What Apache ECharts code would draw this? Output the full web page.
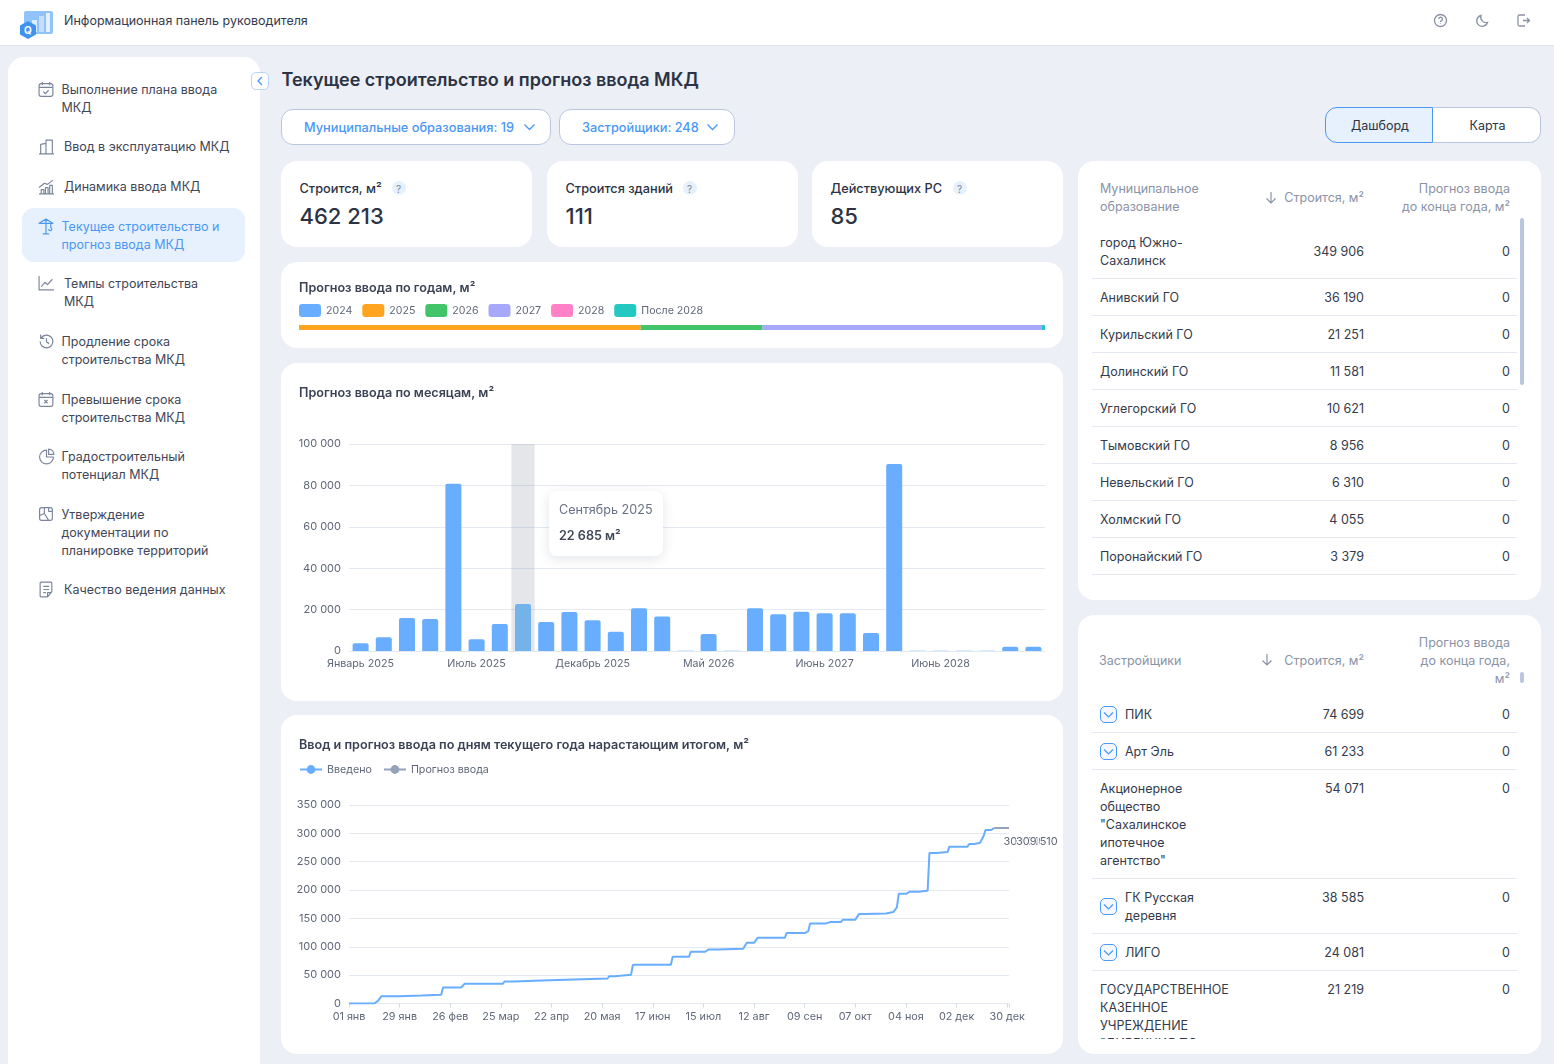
<!DOCTYPE html>
<html lang="ru"><head><meta charset="utf-8">
<script src="https://cdn.jsdelivr.net/npm/echarts@6/dist/echarts.min.js"></script>
<style>
html,body{margin:0;padding:0;width:1554px;height:1064px;overflow:hidden;background:#ECEFF5;font-family:Inter,"Noto Sans",sans-serif;color:#333B4C}
.b{position:absolute;box-sizing:border-box}
.b svg{display:block}
.t{position:absolute;white-space:nowrap;transform:translateY(-50%);font-size:12.5px;line-height:18px;margin-top:.5px}
.chart{position:absolute}
</style></head><body>
<div id="root"></div>
<script>
// ---- chart data ----
const monthNames = ['Январь 2025','Февраль 2025','Март 2025','Апрель 2025','Май 2025','Июль 2025','Август 2025','Сентябрь 2025','Октябрь 2025','Ноябрь 2025','Декабрь 2025','Январь 2026','Февраль 2026','Март 2026','Апрель 2026','Май 2026','Июнь 2026','Сентябрь 2026','Декабрь 2026','Март 2027','Июнь 2027','Июль 2027','Сентябрь 2027','Декабрь 2027','Март 2028','Июнь 2028','Сентябрь 2028','Декабрь 2028','Март 2029','Июнь 2029'];
const monthValues = [3700,6700,16000,15400,80800,5700,13000,22685,14000,18800,14800,9300,20700,16700,150,8200,150,20700,17800,19000,18200,18200,8700,90300,150,150,150,150,2100,2000];
const hoverIndex = 7;
const yearNames = ['2024','2025','2026','2027','2028','После 2028'];
const yearValues = [0,211700,75500,173100,0,1913];
const yearColors = ['#69ADFF','#FFA41F','#41C46A','#A5A8FB','#FF80C5','#23C8C0'];
const dayTickLabels = ['01 янв','29 янв','26 фев','25 мар','22 апр','20 мая','17 июн','15 июл','12 авг','09 сен','07 окт','04 ноя','02 дек','30 дек'];
const donePoints = [[0,0],[14,0],[16,4700],[18,13000],[28,13000],[29,14000],[40,14000],[41,15300],[51,15300],[52,28200],[62,28200],[64,34700],[85,34700],[86,38800],[91,38800],[92,41200],[111,41200],[112,44100],[143,44100],[144,48200],[147,48200],[148,50600],[156,50600],[157,68200],[178,68200],[179,82300],[188,82300],[189,91200],[197,91200],[199,95300],[204,95300],[205,96500],[218,96500],[220,107000],[224,107000],[226,115900],[241,115900],[242,124100],[252,124100],[254,127600],[255,141200],[264,141200],[265,142400],[266,143500],[272,143500],[273,147600],[280,147600],[282,157600],[285,157600],[286,158800],[297,158800],[298,161200],[301,161200],[303,169400],[304,193500],[308,193500],[309,195000],[310,197000],[315,197000],[316,198800],[320,198800],[321,265300],[325,265300],[326,267000],[331,267000],[332,276500],[342,276500],[343,281200],[346,281200],[347,283500],[349,283500],[351,295900],[352,305900],[355,305900],[357,309510]];
const planPoints = [[357,309510],[365,309510]];
const endLabelText = '309 510';

// ---- page texts ----
const navItems = [
 ['Выполнение плана ввода<br>МКД',61.5,98,'cal'],['Ввод в эксплуатацию МКД',64,146,'bld'],['Динамика ввода МКД',64,186,'dyn'],
 ['Текущее строительство и<br>прогноз ввода МКД',61.5,235,'crn'],['Темпы строительства<br>МКД',64,292,'grw'],
 ['Продление срока<br>строительства МКД',61.5,350,'clk'],['Превышение срока<br>строительства МКД',61.5,408,'cax'],
 ['Градостроительный<br>потенциал МКД',61.5,465,'pie'],['Утверждение<br>документации по<br>планировке территорий',61.5,532,'map'],['Качество ведения данных',64,589,'doc']];
const kpis = [['Строится, м²','462 213',281,399],['Строится зданий','111',547,690],['Действующих РС','85',812,960]];
const muni = [['город Южно-<br>Сахалинск','349 906','0',251],['Анивский ГО','36 190','0',297],['Курильский ГО','21 251','0',334],['Долинский ГО','11 581','0',371],['Углегорский ГО','10 621','0',408],['Тымовский ГО','8 956','0',445],['Невельский ГО','6 310','0',482],['Холмский ГО','4 055','0',519],['Поронайский ГО','3 379','0',556]];
const muniLines = [278,315,352,389,426,463,500,537,574];
const devs = [['ПИК','74 699','0',714,1],['Арт Эль','61 233','0',751,1],['Акционерное<br>общество<br>"Сахалинское<br>ипотечное<br>агентство"','54 071','0',824,0],['ГК Русская<br>деревня','38 585','0',906,1],['ЛИГО','24 081','0',952,1],['ГОСУДАРСТВЕННОЕ<br>КАЗЕННОЕ<br>УЧРЕЖДЕНИЕ<br>"ДИРЕКЦИЯ ПО','21 219','0',1016,0]];
const devLines = [732,769,878,933,970];

const root = document.getElementById('root');
function box(x,y,w,h,css,parent){const d=document.createElement('div');d.className='b';d.style.cssText+=`left:${x}px;top:${y}px;width:${w}px;height:${h}px;${css||''}`;(parent||root).appendChild(d);return d;}
function txt(x,y,s,css,right,parent){const d=document.createElement('div');d.className='t';d.innerHTML=s;d.style.cssText+=`top:${y}px;${right?`right:${1554-x}px;text-align:right;`:`left:${x}px;`}${css||''}`;(parent||root).appendChild(d);return d;}
function svg(x,y,w,h,inner,parent,vb){const d=document.createElement('div');d.className='b';d.style.cssText=`left:${x}px;top:${y}px;width:${w}px;height:${h}px;`;d.innerHTML=`<svg width="${w}" height="${h}" viewBox="${vb||`0 0 ${w} ${h}`}" fill="none">${inner}</svg>`;(parent||root).appendChild(d);}

// top bar
box(0,0,1554,46,'background:#fff;border-bottom:1px solid #DDE2EC');
svg(18,9,36,30,'<rect x="6" y="2" width="29" height="23" rx="2" fill="#8FC3FA"/><rect x="14" y="11" width="5" height="12" fill="#DCEBFD"/><rect x="21" y="7" width="5" height="16" fill="#C4DEFC"/><rect x="28" y="4" width="4" height="19" fill="#E4F0FE"/><path d="M10 12l8 4.500v9L10 30l-8-4.500v-9z" fill="#3E93F2"/><text x="10" y="24.500" text-anchor="middle" font-family="Inter" font-size="10" font-weight="700" fill="#fff">Q</text>');
txt(64,20,'Информационная панель руководителя','color:#333B4C');
const ic='stroke="#8A93A6" stroke-width="1.3"';
svg(1433,13,15,15,`<circle cx="7.5" cy="7.5" r="6" ${ic}/><path d="M5.8 6a1.8 1.8 0 113 1.4c-.8.5-1.3.8-1.3 1.6M7.5 10.6v.4" ${ic}/>`);
svg(1475,13,15,15,`<path d="M12.5 9.5A5.5 5.5 0 016 2.500a5.500 5.500 0 106.500 7z" ${ic}/>`);
svg(1516,13,15,15,`<path d="M9 2H3.500A1.500 1.500 0 002 3.500v8A1.500 1.500 0 003.500 13H9M7 7.500h6.500M11 5l2.500 2.500L11 10" ${ic}/>`);

// sidebar
box(8,57,252,1020,'background:#fff;border-radius:16px');
box(22,208,223,54,'background:#E7F0FD;border-radius:12px');
const gly={cal:'<rect x="1" y="2.500" width="13" height="12" rx="2"/><path d="M4 1v3M11 1v3M1 6h13M5 10l2 2 3-3.500"/>',bld:'<path d="M1 15h14M2.500 15V6l5-1v10M7.500 15V2h6v13"/>',dyn:'<path d="M1 15h14M3 15v-4h2.500v4M7 15v-6h2.500v6M11 15V7h2.500v8M1 9l5-4 3 1 5-4"/>',crn:'<path d="M7.500 1v14M4.500 15h6M1 5h13l-6.500-4zM12 5v4a1.500 1.500 0 11-2 1.400"/>',grw:'<path d="M1 1v13h14M3 11l3.500-4 2.500 2 4.500-5"/>',clk:'<path d="M2 8a6 6 0 106-6 6 6 0 00-5 2.700M2.500 1.500v3.500H6M8 5v3.500l2.500 1.500"/>',cax:'<rect x="1" y="2.500" width="13" height="12" rx="2"/><path d="M4 1v3M11 1v3M1 6h13M6 8.500l3 3M9 8.500l-3 3"/>',pie:'<path d="M8 2a6.500 6.500 0 106.500 6.500H8z"/><path d="M10 1a5 5 0 015 5h-5z"/>',map:'<rect x="1.500" y="1.500" width="12" height="12" rx="2"/><path d="M6 1.500V7l-4.500 2M6 7l4 6.500M10 1.500V5h3.500"/>',doc:'<path d="M3 1h9a1 1 0 011 1v8l-4 5H3a1 1 0 01-1-1V2a1 1 0 011-1zM5 5h5.500M5 8h5.500M5 11h2.500M9 15v-4h4"/>'};
navItems.forEach(([s,x,y,g])=>{const on=g==='crn';const col=on?'#4A98F5':'#7C869B';
 const lines=s.split('<br>').length;const first=y-(lines-1)*9;
 svg(38,first-8.5,17,17,`<g stroke="${col}" stroke-width="1.1" stroke-linejoin="round">${gly[g]}</g>`,null,'0 0 16 16');
 txt(x,y,s,`color:${on?'#4A98F5':'#3F4759'}`);});
box(251,72,18,18,'background:#fff;border:1px solid #B9D4F7;border-radius:5px');
svg(255,76,10,10,'<path d="M7 1L3 5l4 4" stroke="#4A98F5" stroke-width="1.3"/>');

// heading and filters
txt(281.5,79.5,'Текущее строительство и прогноз ввода МКД','font-size:18px;font-weight:600;color:#2B3344');
box(281,109,270,36,'background:#fff;border:1px solid #B9C6DE;border-radius:12px');
box(559,109,176,36,'background:#fff;border:1px solid #B9C6DE;border-radius:12px');
txt(304,127,'Муниципальные образования: 19','font-size:12.75px;color:#4A98F5;font-weight:500');
txt(582,127,'Застройщики: 248','font-size:12.75px;color:#4A98F5;font-weight:500');
[523,706].forEach(x=>svg(x,122.5,13,9,'<path d="M1.500 1.500l5 5 5-5" stroke="#4A98F5" stroke-width="1.300"/>'));
box(1433,107,108,36,'background:#fff;border:1px solid #B9C6DE;border-left:0;border-radius:0 12px 12px 0');
box(1325,107,108,36,'background:#E7F0FD;border:1px solid #4A98F5;border-radius:12px 0 0 12px');
txt(1351,125,'Дашборд','color:#2B3344');txt(1469.5,125,'Карта','color:#2B3344');

// kpis
kpis.forEach(([l,v,x,q])=>{box(x,161,251,86,'background:#fff;border-radius:16px');
 txt(x+18.5,188,l,'font-size:12.75px;font-weight:500;color:#2B3344');txt(x+18.5,215.5,v,'font-size:22px;font-weight:500;color:#2B3344');
 box(q-7,181,14,14,'background:#E7F0FD;border-radius:50%');txt(q-3,188,'?','font-size:10px;color:#7C869B');});

// chart cards
[[262,86],[363,338],[715,339]].forEach(([y,h])=>box(281,y,782,h,'background:#fff;border-radius:16px'));

// right tables
box(1078,161,463,439,'background:#fff;border-radius:16px');
box(1078,615,463,439,'background:#fff;border-radius:16px');
const hd='color:#8A93A6';
const arrow=(x,y)=>svg(x,y,12,13,'<path d="M6 1v11M1.500 7.500L6 12l4.500-4.500" stroke="#8A93A6" stroke-width="1.200"/>');
txt(1100,197,'Муниципальное<br>образование',hd);arrow(1265,191);txt(1364,197,'Строится, м²',hd,1);txt(1510,197,'Прогноз ввода<br>до конца года, м²',hd,1);
muni.forEach(([n,a,b,y])=>{txt(1100,y,n);txt(1364,y,a,'',1);txt(1510,y,b,'',1);});
muniLines.forEach(y=>box(1092,y,425,1,'background:#E3E8F2'));
box(1520,218,4,167,'background:#B9C6DE;border-radius:2px');
txt(1099,660,'Застройщики',hd);arrow(1261,653);txt(1364,660,'Строится, м²',hd,1);txt(1510,660,'Прогноз ввода<br>до конца года,<br>м²',hd,1);
box(1520,672,4,11,'background:#B9C6DE;border-radius:2px');
const clip=box(1078,690,463,349,'overflow:hidden');
const tl=(x,y,s,css,r)=>{const d=txt(x-1078,y-690,s,css,0,clip);if(r){d.style.left='auto';d.style.right=(1541-x)+'px';d.style.textAlign='right';}return d;};
devs.forEach(([n,a,b,y,c])=>{const nl=n.split('<br>').length;const first=y-(nl-1)*9;
 tl(c?1125:1100,y,n);tl(1364,first,a,'',1);tl(1510,first,b,'',1);
 if(c){box(1100-1078,y-8.5-690,17,17,'border:1px solid #4A98F5;border-radius:5px;background:#F4F8FE',clip);svg(1103-1078,y-3.5-690,11,8,'<path d="M1 1.500l4.500 4.500L10 1.500" stroke="#4A98F5" stroke-width="1.200"/>',clip);}});
devLines.forEach(y=>box(1092-1078,y-690,425,1,'background:#E3E8F2',clip));

// charts
function mount(x,y,w,h){const d=document.createElement('div');d.className='chart';d.style.cssText=`left:${x}px;top:${y}px;width:${w}px;height:${h}px`;root.appendChild(d);return echarts.init(d,null,{renderer:'canvas'});}
const FONT='Inter';
const titleStyle={fontFamily:FONT,fontSize:12.6,fontWeight:600,color:'#3A4254'};
const labelCol='#5F6778', gridCol='#E3E8F3';
const spaced=v=>String(v).replace(/\B(?=(\d{3})+(?!\d))/g,' ');

const c1=mount(281,262,782,86);
c1.setOption({animation:false,
 title:{text:'Прогноз ввода по годам, м²',left:18,top:20,padding:0,textStyle:titleStyle},
 legend:{left:18,top:42,padding:0,itemWidth:22,itemHeight:13,itemGap:10,icon:'roundRect',data:yearNames,textStyle:{fontFamily:FONT,fontSize:10.6,color:labelCol}},
 grid:{left:18,right:18,top:63,height:5},
 xAxis:{type:'value',min:0,max:yearValues.reduce((a,b)=>a+b,0),show:false},
 yAxis:{type:'category',data:['Годы'],show:false},
 series:yearNames.map((n,i)=>({name:n,type:'bar',stack:'y',barWidth:5.5,data:[yearValues[i]],itemStyle:{color:yearColors[i]}}))});

const c2=mount(281,363,782,338);
c2.setOption({animation:false,
 title:{text:'Прогноз ввода по месяцам, м²',left:18,top:24,padding:0,textStyle:titleStyle},
 grid:{left:68,right:18,top:81,height:207},
 tooltip:{trigger:'axis',alwaysShowContent:true,position:[268,128],padding:0,borderWidth:0,backgroundColor:'#fff',
  extraCssText:'border-radius:8px;box-shadow:0 3px 12px rgba(60,70,100,.14);',
  axisPointer:{type:'shadow',shadowStyle:{color:'rgba(120,128,150,.2)'}},
  formatter:p=>`<div style="width:114px;height:65px;box-sizing:border-box;padding:6px 0 0 10px;font-family:Inter;font-size:12.6px;line-height:26px;color:#667085">${p[0].name}<br><b style="font-weight:600;color:#3F4759">${spaced(p[0].value)} м²</b></div>`},
 xAxis:{type:'category',data:monthNames,axisTick:{show:false},axisLine:{lineStyle:{color:gridCol}},
  axisLabel:{interval:4,margin:7,fontFamily:FONT,fontSize:10.7,color:labelCol}},
 yAxis:{type:'value',min:0,max:100000,interval:20000,axisLabel:{margin:8,padding:[2,0,0,0],fontFamily:FONT,fontSize:11,color:labelCol,formatter:spaced},splitLine:{lineStyle:{color:gridCol}}},
 series:[{type:'bar',barCategoryGap:'31%',data:monthValues.map((v,i)=>i===hoverIndex?{value:v,itemStyle:{color:'#6AADE8'}}:v),itemStyle:{color:'#69ADFF',borderRadius:[2,2,0,0]}}]});
c2.dispatchAction({type:'showTip',seriesIndex:0,dataIndex:hoverIndex});

const c3=mount(281,715,782,339);
c3.setOption({animation:false,
 title:{text:'Ввод и прогноз ввода по дням текущего года нарастающим итогом, м²',left:18,top:24,padding:0,textStyle:titleStyle},
 legend:{left:18,top:49,padding:0,itemWidth:22,itemHeight:11,itemGap:11,data:['Введено','Прогноз ввода'],textStyle:{fontFamily:FONT,fontSize:10.7,color:labelCol}},
 grid:{left:68,right:54,top:90,height:198.5},
 xAxis:{type:'value',min:0,max:365,interval:28,splitLine:{show:false},axisLine:{lineStyle:{color:gridCol}},axisTick:{show:true,length:4,lineStyle:{color:'#D5DBE7'}},
  axisLabel:{margin:8,hideOverlap:false,fontFamily:FONT,fontSize:10.8,color:labelCol,formatter:v=>v%28===0?dayTickLabels[v/28]:''}},
 yAxis:{type:'value',min:0,max:350000,interval:50000,axisLine:{show:false},axisTick:{show:false},axisLabel:{margin:8,padding:[3,0,0,0],fontFamily:FONT,fontSize:11,color:labelCol,formatter:spaced},splitLine:{lineStyle:{color:gridCol}}},
 series:[
  {name:'Введено',type:'line',symbol:'circle',showSymbol:false,z:2,data:donePoints,lineStyle:{color:'#69ADFF',width:2},itemStyle:{color:'#69ADFF'},
   endLabel:{show:true,formatter:endLabelText,distance:9,offset:[0,14],fontFamily:FONT,fontSize:11,color:labelCol}},
  {name:'Прогноз ввода',type:'line',symbol:'circle',showSymbol:false,z:3,data:planPoints,lineStyle:{color:'#94A3B8',width:2},itemStyle:{color:'#94A3B8'},
   endLabel:{show:true,formatter:endLabelText,distance:7,offset:[0,14],fontFamily:FONT,fontSize:11,color:labelCol,textBorderColor:'#fff',textBorderWidth:2}}
 ]});
</script></body></html>
